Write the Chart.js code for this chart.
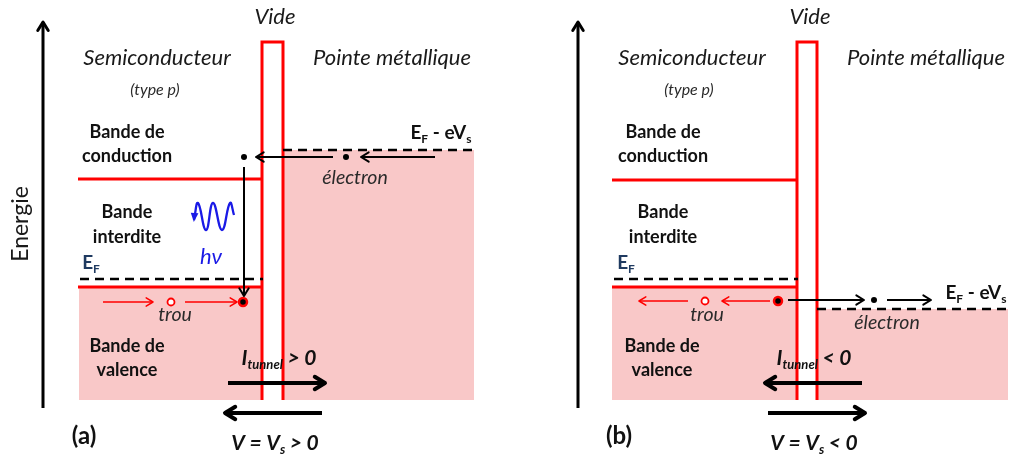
<!DOCTYPE html>
<html>
<head>
<meta charset="utf-8">
<script src="https://cdn.jsdelivr.net/npm/chart.js@4.4.1/dist/chart.umd.min.js"></script>
<style>
    html, body { margin: 0; padding: 0; background: #fff; }
    canvas { display: block; }
</style>
</head>
<body>
<canvas id="diagram" width="1012" height="462"></canvas>
<script>
// Diagrammes de bandes : (a) Vs > 0, (b) Vs < 0
// coordonnees (x vers la droite, y vers le bas)
const energyAxis = [[43, 408, 43, 22], [578, 408, 578, 22]];
const conductionBand = [[78, 262, 179], [612, 797, 180]];
const valenceBand = [[78, 262, 287], [612, 797, 287]];
const fermiSemi = [[80, 263, 279], [614, 798, 279]];
const fermiTip = [[283, 473, 150], [817, 1008, 309]];
const barrier = [[262, 283, 42, 400], [797, 817, 42, 400]];
const pinkSemi = [[79, 262, 287, 400], [612, 797, 287, 400]];
const pinkTip = [[283, 474, 150, 400], [817, 1008, 309, 400]];

// fleches : x1, y1, x2 (pointe), y2, type
const arrows = [
    [43, 408, 43, 22, 'axis'], [578, 408, 578, 22, 'axis'],
    [103, 302, 153, 302, 'hole'], [185, 302, 237, 302, 'hole'],
    [688, 301, 639, 301, 'hole'], [770, 301, 722, 301, 'hole'],
    [244, 167, 244, 296, 'electron'],
    [333, 157, 256, 157, 'electron'], [435, 157, 361, 157, 'electron'],
    [788, 300, 864, 300, 'electron'], [887, 300, 931, 300, 'electron'],
    [228, 383, 325, 383, 'current'], [322, 413, 225, 413, 'current'],
    [862, 383, 765, 383, 'current'], [768, 413, 865, 413, 'current']
];

const electrons = [[244, 157], [346, 157], [874, 300]];
const holes = [[171, 302], [705, 301]];
const recombination = [[243, 302], [778, 301]];

// photon hv emis
const photonWave = [[234, 215], [230, 203], [222, 230], [213, 203], [206, 230], [198, 203], [194, 220]];

// textes : x, y, texte, style
const labels = [
    [275, 17, 'Vide', 'title'], [810, 17, 'Vide', 'title'],
    [157, 58, 'Semiconducteur', 'title'], [692, 58, 'Semiconducteur', 'title'],
    [392, 58, 'Pointe métallique', 'title'], [926, 58, 'Pointe métallique', 'title'],
    [155, 90, '(type p)', 'small'], [689, 90, '(type p)', 'small'],
    [127, 132, 'Bande de', 'band'], [127, 156, 'conduction', 'band'],
    [663, 132, 'Bande de', 'band'], [663, 156, 'conduction', 'band'],
    [127, 212, 'Bande', 'band'], [127, 237, 'interdite', 'band'],
    [663, 212, 'Bande', 'band'], [663, 237, 'interdite', 'band'],
    [127, 346, 'Bande de', 'band'], [127, 370, 'valence', 'band'],
    [662, 346, 'Bande de', 'band'], [662, 370, 'valence', 'band'],
    [91, 263, 'E_{F}', 'fermi'], [626, 263, 'E_{F}', 'fermi'],
    [441, 133, 'E_{F} - eV_{s}', 'level'], [976, 293, 'E_{F} - eV_{s}', 'level'],
    [355, 178, 'électron', 'note'], [887, 323, 'électron', 'note'],
    [175, 315, 'trou', 'note'], [707, 315, 'trou', 'note'],
    [211, 257, 'hν', 'photon'],
    [279, 358, 'I_{tunnel} > 0', 'current'], [814, 358, 'I_{tunnel} < 0', 'current'],
    [275, 443, 'V = V_{s} > 0', 'current'], [814, 443, 'V = V_{s} < 0', 'current'],
    [84, 436, '(a)', 'panel'], [619, 436, '(b)', 'panel']
];

const RED = '#ff0000';
const PINK = '#f9c8c8';
const NAVY = '#1f3a60';
const BLUE = '#1a1ae6';
const FONT = 'Lato, "Open Sans", sans-serif';

const textStyles = {
    title: { size: 22, weight: 'normal', style: 'italic', color: '#1a1a1a' },
    small: { size: 16, weight: 'normal', style: 'italic', color: '#2a2a2a' },
    band: { size: 18, weight: 'bold', style: 'normal', color: '#111' },
    fermi: { size: 19, weight: 'bold', style: 'normal', color: NAVY },
    level: { size: 19, weight: 'bold', style: 'normal', color: '#111' },
    note: { size: 19.5, weight: 'normal', style: 'italic', color: '#2a2a2a' },
    photon: { size: 22, weight: 'normal', style: 'italic', color: BLUE },
    current: { size: 21, weight: 'bold', style: 'italic', color: '#111' },
    panel: { size: 24, weight: 'bold', style: 'normal', color: '#111' }
};

const arrowStyles = {
    axis: { color: '#000', width: 3, head: 10 },
    hole: { color: RED, width: 1.5, head: 8 },
    electron: { color: '#000', width: 2, head: 9 },
    current: { color: '#000', width: 4, head: 12 }
};

function seg(x1, y1, x2, y2) {
    return [{ x: x1, y: y1 }, { x: x2, y: y2 }];
}

const datasets = [];

// zones remplies (etats occupes)
pinkSemi.concat(pinkTip).forEach(r => {
    datasets.push({
        data: seg(r[0], r[2], r[1], r[2]),
        borderWidth: 0,
        backgroundColor: PINK,
        fill: { value: r[3] },
        order: 10
    });
});

conductionBand.concat(valenceBand).forEach(b => {
    datasets.push({ data: seg(b[0], b[2], b[1], b[2]), borderColor: RED, borderWidth: 3, order: 3 });
});

fermiSemi.concat(fermiTip).forEach(f => {
    datasets.push({ data: seg(f[0], f[2], f[1], f[2]), borderColor: '#000', borderWidth: 2.5, borderDash: [9, 6], order: 2 });
});

barrier.forEach(b => {
    datasets.push({
        data: [{ x: b[0], y: b[3] }, { x: b[0], y: b[2] }, { x: b[1], y: b[2] }, { x: b[1], y: b[3] }],
        borderColor: RED,
        borderWidth: 3,
        order: 3
    });
});

arrows.forEach(a => {
    const st = arrowStyles[a[4]];
    datasets.push({ data: seg(a[0], a[1], a[2], a[3]), borderColor: st.color, borderWidth: st.width, order: 1 });
});

datasets.push({
    data: photonWave.map(p => ({ x: p[0], y: p[1] })),
    borderColor: BLUE,
    borderWidth: 2.3,
    tension: 0.45,
    order: 1
});

datasets.push({
    type: 'scatter',
    data: holes.map(p => ({ x: p[0], y: p[1] })),
    pointRadius: 3.5,
    pointBackgroundColor: '#fff',
    pointBorderColor: RED,
    pointBorderWidth: 1.8,
    order: 0
});
datasets.push({
    type: 'scatter',
    data: recombination.map(p => ({ x: p[0], y: p[1] })),
    pointRadius: 4,
    pointBackgroundColor: '#000',
    pointBorderColor: RED,
    pointBorderWidth: 2.5,
    order: 0
});
datasets.push({
    type: 'scatter',
    data: electrons.map(p => ({ x: p[0], y: p[1] })),
    pointRadius: 3,
    pointBackgroundColor: '#000',
    pointBorderWidth: 0,
    order: 0
});

function drawRich(ctx, x, y, text, st) {
    const parts = [];
    text.split(/(_\{[^}]*\})/).forEach(p => {
        if (!p) return;
        if (p.startsWith('_{')) parts.push({ t: p.slice(2, -1), sub: true });
        else parts.push({ t: p, sub: false });
    });
    const fontFor = sub => `${st.style} ${st.weight} ${sub ? Math.round(st.size * 0.62) : st.size}px ${FONT}`;
    let total = 0;
    parts.forEach(p => {
        ctx.font = fontFor(p.sub);
        p.w = ctx.measureText(p.t).width;
        total += p.w;
    });
    let cx = x - total / 2;
    parts.forEach(p => {
        ctx.font = fontFor(p.sub);
        ctx.fillText(p.t, cx, p.sub ? y + st.size * 0.32 : y);
        cx += p.w;
    });
}

const annotationPlugin = {
    id: 'annotations',
    afterDatasetsDraw(chart) {
        const ctx = chart.ctx;
        const xs = chart.scales.x, ys = chart.scales.y;
        ctx.save();
        ctx.lineCap = 'round';
        ctx.lineJoin = 'round';

        // pointes de fleches
        arrows.forEach(a => {
            const st = arrowStyles[a[4]];
            const x1 = xs.getPixelForValue(a[0]), y1 = ys.getPixelForValue(a[1]);
            const x2 = xs.getPixelForValue(a[2]), y2 = ys.getPixelForValue(a[3]);
            const ang = Math.atan2(y2 - y1, x2 - x1);
            ctx.strokeStyle = st.color;
            ctx.lineWidth = st.width;
            ctx.beginPath();
            ctx.moveTo(x2 - st.head * Math.cos(ang - 0.55), y2 - st.head * Math.sin(ang - 0.55));
            ctx.lineTo(x2, y2);
            ctx.lineTo(x2 - st.head * Math.cos(ang + 0.55), y2 - st.head * Math.sin(ang + 0.55));
            ctx.stroke();
        });

        // pointe du photon
        const last = photonWave[photonWave.length - 1], prev = photonWave[photonWave.length - 2];
        const px = xs.getPixelForValue(last[0]), py = ys.getPixelForValue(last[1]);
        const ang = Math.atan2(py - ys.getPixelForValue(prev[1]) + 6, px - xs.getPixelForValue(prev[0]) + 2);
        ctx.fillStyle = BLUE;
        ctx.beginPath();
        ctx.moveTo(px + 2 * Math.cos(ang), py + 2 * Math.sin(ang));
        ctx.lineTo(px - 8 * Math.cos(ang - 0.5), py - 8 * Math.sin(ang - 0.5));
        ctx.lineTo(px - 8 * Math.cos(ang + 0.5), py - 8 * Math.sin(ang + 0.5));
        ctx.closePath();
        ctx.fill();

        // textes
        ctx.textBaseline = 'middle';
        labels.forEach(l => {
            const st = textStyles[l[3]];
            ctx.fillStyle = st.color;
            drawRich(ctx, xs.getPixelForValue(l[0]), ys.getPixelForValue(l[1]), l[2], st);
        });

        // titre de l'axe vertical
        ctx.translate(xs.getPixelForValue(21), ys.getPixelForValue(224));
        ctx.rotate(-Math.PI / 2);
        ctx.textAlign = 'center';
        ctx.fillStyle = '#1a1a1a';
        ctx.font = `normal 23px ${FONT}`;
        ctx.fillText('Energie', 0, 0);
        ctx.restore();
    }
};

new Chart(document.getElementById('diagram'), {
    type: 'line',
    data: { datasets: datasets },
    options: {
        responsive: false,
        animation: false,
        devicePixelRatio: 1,
        layout: { padding: 0, autoPadding: false },
        plugins: {
            legend: { display: false },
            tooltip: { enabled: false }
        },
        elements: {
            point: { radius: 0, hoverRadius: 0 },
            line: { tension: 0, fill: false, borderCapStyle: 'butt' }
        },
        scales: {
            x: { type: 'linear', min: 0, max: 1012, display: false },
            y: { type: 'linear', min: 0, max: 462, reverse: true, display: false }
        }
    },
    plugins: [annotationPlugin]
});
</script>
</body>
</html>
